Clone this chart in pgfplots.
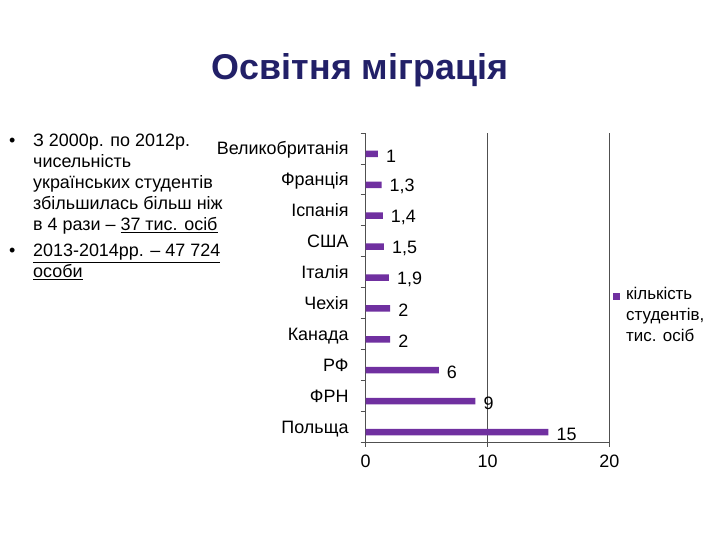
\documentclass[border=0pt]{standalone}
\usepackage{fontspec}
\setmainfont{Liberation Sans}
\usepackage{pgfplots}
\pgfplotsset{compat=1.18}
\definecolor{titleblue}{RGB}{34,32,104}
\definecolor{barpurple}{RGB}{112,48,160}
\definecolor{gridgray}{RGB}{80,80,80}

\begin{document}
\begin{tikzpicture}
\useasboundingbox (0bp,0bp) rectangle (720bp,540bp);
\fill[white] (0bp,0bp) rectangle (720bp,540bp);
\node[anchor=base, inner sep=0, font=\fontsize{36}{42}\selectfont\bfseries, text=titleblue] at (360bp,460bp) {Освітня міграція};

\begin{scope}[every node/.style={anchor=base west, inner sep=0, font=\fontsize{18}{21}\selectfont}]
\node at (9bp,393bp) {•};
\node at (33bp,393bp) {З 2000р. по 2012р.};
\node at (33bp,372bp) {чисельність};
\node at (33bp,351bp) {українських студентів};
\node at (33bp,330bp) {збільшилась більш ніж};
\node at (33bp,309bp) {в 4 рази – \underline{37 тис. осіб}};
\node at (9bp,283bp) {•};
\node at (33bp,283bp) {\underline{2013-2014рр. – 47 724}};
\node at (33bp,262bp) {\underline{особи}};
\end{scope}

\begin{axis}[
  at={(365.7bp,98bp)}, anchor=south west,
  scale only axis, width=243.6bp, height=309bp,
  xbar,
  xmin=0, xmax=20, ymin=-0.5, ymax=9.5,
  axis x line*=bottom, axis y line*=left,
  axis line style={gridgray, line width=0.7pt},
  xmajorgrids, grid style={gridgray, line width=0.7pt},
  xtick={0,10,20},
  tick align=outside,
  tick style={gridgray, line width=0.7pt},
  major tick length=5bp,
  ytick={0,...,9},
  yticklabels={Польща,ФРН,РФ,Канада,Чехія,Італія,США,Іспанія,Франція,Великобританія},
  ytick style={draw=none},
  extra y ticks={-0.5,0.5,1.5,2.5,3.5,4.5,5.5,6.5,7.5,8.5,9.5},
  extra y tick labels={},
  extra y tick style={ytick style={draw=gridgray}, major tick length=5bp},
  ticklabel style={font=\fontsize{18}{21}\selectfont},
  yticklabel style={anchor=base east, inner sep=0, xshift=-12bp, yshift=-6.5bp},
  xticklabel style={anchor=north, inner sep=0, yshift=-8bp},
  /pgf/number format/assume math mode=true,
  point meta=x,
  nodes near coords={\pgfmathprintnumber[use comma]{\pgfplotspointmeta}},
  nodes near coords style={anchor=west, inner sep=0, xshift=8bp, yshift=-2bp, font=\fontsize{18}{21}\selectfont, text=black},
  clip=false,
]
\addplot[fill=barpurple, draw=none, bar width=6.5bp, bar shift=-5.5bp]
  coordinates {(15,0) (9,1) (6,2) (2,3) (2,4) (1.9,5) (1.5,6) (1.4,7) (1.3,8) (1,9)};
\end{axis}

% legend
\fill[barpurple] (613bp,240bp) rectangle (620bp,247bp);
\begin{scope}[every node/.style={anchor=base west, inner sep=0, font=\fontsize{17}{21}\selectfont}]
\node at (626bp,240bp) {кількість};
\node at (626bp,219bp) {студентів,};
\node at (626bp,198bp) {тис. осіб};
\end{scope}
\end{tikzpicture}
\end{document}
